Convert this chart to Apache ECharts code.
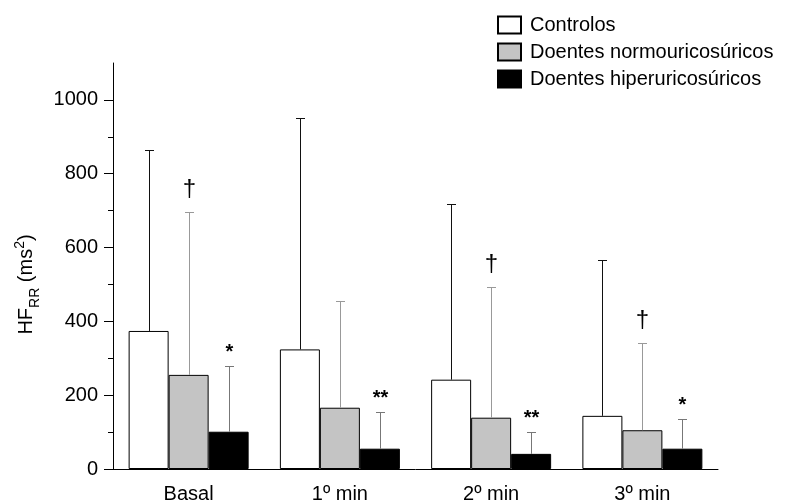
<!DOCTYPE html>
<html><head><meta charset="utf-8">
<script src="https://cdn.jsdelivr.net/npm/echarts@6/dist/echarts.min.js"></script>
<style>html,body{margin:0;padding:0;background:#fff}#c{width:800px;height:504px}</style>
</head><body><div id="c"></div>
<script>
const categories = ['Basal', '1º min', '2º min', '3º min'];
const seriesNames = ['Controlos', 'Doentes normouricosúricos', 'Doentes hiperuricosúricos'];
const controlos = [374, 324, 242, 144];
const normo = [255, 166, 139, 105];
const hiper = [101, 55, 41, 55];
const controlosErrTop = [865, 952, 719, 566];
const normoErrTop = [697, 455, 493, 342];
const hiperErrTop = [280, 155, 99, 135];
const controlosMarks = ['', '', '', ''];
const normoMarks = ['†', '', '†', '†'];
const hiperMarks = ['*', '**', '**', '*'];
const yMajorTicks = [0, 200, 400, 600, 800, 1000];
const yMinorTicks = [100, 300, 500, 700, 900];

const FONT = "'Liberation Sans', Arial, Helvetica, sans-serif";
const BAR_W = 40;
const CAP = 4.5;

function errRender(k, color, marks) {
  return function (params, api) {
    const i = api.value(0);
    const base = api.coord([i, api.value(1)]);
    const top = api.coord([i, api.value(2)]);
    const x = Math.round(base[0] + (k - 1) * BAR_W) + 0.5;
    const yt = Math.round(top[1]) + 0.5;
    const children = [
      { type: 'line', shape: { x1: x, y1: base[1], x2: x, y2: yt }, style: { stroke: color, lineWidth: 1 } },
      { type: 'line', shape: { x1: x - CAP, y1: yt, x2: x + CAP, y2: yt }, style: { stroke: color, lineWidth: 1 } }
    ];
    const m = marks[params.dataIndex];
    if (m) {
      const dagger = m === '†';
      children.push({
        type: 'text', x: x, y: yt - (dagger ? 23 : 14),
        style: { text: m, align: 'center', verticalAlign: 'middle',
          font: (dagger ? 'normal 24px ' : 'bold 20px ') + FONT, fill: '#000' }
      });
    }
    return { type: 'group', children: children };
  };
}

function errData(vals, tops) { return vals.map((v, i) => [i, v, tops[i]]); }

const chart = echarts.init(document.getElementById('c'), null, { renderer: 'canvas' });
chart.setOption({
  animation: false,
  backgroundColor: '#fff',
  textStyle: { fontFamily: FONT },
  grid: { left: 113, right: 82, top: 63, bottom: 35, containLabel: false },
  legend: {
    orient: 'vertical', left: 497, top: 15, padding: 0,
    itemWidth: 23, itemHeight: 17, itemGap: 7,
    icon: 'rect', selectedMode: false, data: seriesNames,
    textStyle: { fontSize: 20, color: '#000', fontFamily: FONT, padding: [0, 0, 0, 4] }
  },
  xAxis: [
    {
      type: 'category', data: categories,
      axisLine: { lineStyle: { color: '#000', width: 1 } },
      axisTick: { alignWithLabel: true, length: 6, lineStyle: { color: '#000' } },
      axisLabel: { fontSize: 20, color: '#000', margin: 15, fontFamily: FONT }
    },
    {
      type: 'category', data: categories, position: 'bottom',
      axisLine: { show: false },
      axisTick: { length: 3, lineStyle: { color: '#000' } },
      axisLabel: { show: false }
    }
  ],
  yAxis: [
    {
      type: 'value', min: 0, max: 1100,
      axisLine: { show: true, lineStyle: { color: '#000' } },
      axisTick: { show: true, length: 9, customValues: yMajorTicks, lineStyle: { color: '#000' } },
      axisLabel: { customValues: yMajorTicks, formatter: v => String(v), fontSize: 20, color: '#000', margin: 15, fontFamily: FONT },
      splitLine: { show: false },
      name: 'HF{sub|RR} (ms{sup|2})', nameLocation: 'middle', nameGap: 69, nameRotate: 90,
      nameTextStyle: {
        fontSize: 20, color: '#000', fontFamily: FONT, padding: [0, 37, 0, 0],
        rich: {
          sub: { fontSize: 14, color: '#000', fontFamily: FONT, padding: [18, 0, 0, 0] },
          sup: { fontSize: 14, color: '#000', fontFamily: FONT, padding: [0, 0, 12, 0] }
        }
      }
    },
    {
      type: 'value', min: 0, max: 1100, position: 'left', offset: 0,
      axisLine: { show: false },
      axisTick: { show: true, length: 5, customValues: yMinorTicks, lineStyle: { color: '#000' } },
      axisLabel: { show: false },
      splitLine: { show: false }
    }
  ],
  series: [
    { name: seriesNames[0], type: 'bar', data: controlos, barWidth: BAR_W, barGap: '0%',
      itemStyle: { color: '#fff', borderColor: '#000', borderWidth: 1 } },
    { name: seriesNames[1], type: 'bar', data: normo, barWidth: BAR_W, barGap: '0%',
      itemStyle: { color: '#c4c4c4', borderColor: '#000', borderWidth: 1 } },
    { name: seriesNames[2], type: 'bar', data: hiper, barWidth: BAR_W, barGap: '0%',
      itemStyle: { color: '#000', borderColor: '#000', borderWidth: 1 } },
    { name: 'errC', type: 'custom', renderItem: errRender(0, '#111', controlosMarks), data: errData(controlos, controlosErrTop), z: 3 },
    { name: 'errN', type: 'custom', renderItem: errRender(1, '#999', normoMarks), data: errData(normo, normoErrTop), z: 3 },
    { name: 'errH', type: 'custom', renderItem: errRender(2, '#777', hiperMarks), data: errData(hiper, hiperErrTop), z: 3 }
  ]
});
</script>
</body></html>
